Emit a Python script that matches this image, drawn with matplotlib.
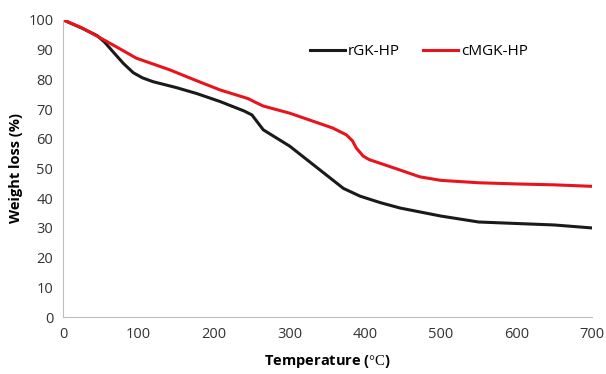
import matplotlib
matplotlib.use('Agg')
import matplotlib.pyplot as plt

# TGA curves, temperature in degC, weight in %
temp_rgk = [0, 25, 45, 55, 66, 80, 93, 105, 119, 150, 177, 208, 240, 250, 256, 265, 300, 340, 371, 393, 420, 446, 500, 550, 600, 650, 700]
wt_rgk = [100, 97.2, 94.7, 92.5, 89.3, 85.3, 82.2, 80.5, 79.2, 77.2, 75.2, 72.5, 69.3, 68, 66, 63, 57.5, 49.5, 43.3, 40.7, 38.5, 36.7, 34, 32, 31.5, 31, 30]

temp_cmgk = [0, 25, 46, 70, 97, 141, 175, 208, 245, 255, 265, 300, 357, 375, 383, 388, 397, 405, 419, 440, 472, 500, 550, 600, 650, 700]
wt_cmgk = [100, 97.3, 94.4, 91, 87.1, 83.2, 79.7, 76.4, 73.5, 72.2, 71, 68.6, 63.6, 61.3, 59.3, 56.9, 54.2, 53, 51.8, 50, 47.2, 46, 45.2, 44.8, 44.5, 44]

plt.rcParams['font.family'] = ['Open Sans', 'DejaVu Sans']
plt.rcParams['mathtext.fontset'] = 'custom'
plt.rcParams['mathtext.rm'] = 'Liberation Serif'

fig = plt.figure(figsize=(6.06, 3.74), dpi=100)
ax = fig.add_axes([0.104, 0.152, 0.873, 0.795])

ax.plot(temp_rgk, wt_rgk, color='#1a1a1a', lw=2.2, label='rGK-HP')
ax.plot(temp_cmgk, wt_cmgk, color='#e8141c', lw=2.2, label='cMGK-HP')

ax.set_xlim(0, 700)
ax.set_ylim(0, 100)
ax.set_xticks(range(0, 701, 100))
ax.set_yticks(range(0, 101, 10))
ax.tick_params(length=0, labelsize=10.5, colors='#333333', pad=7)
for s in ['top', 'right']:
    ax.spines[s].set_visible(False)
for s in ['left', 'bottom']:
    ax.spines[s].set_color('#bfbfbf')

ax.set_ylabel('Weight loss (%)', fontsize=10.5, fontweight='bold', labelpad=4)
ax.set_xlabel('Temperature (' + r'$\mathrm{°C}$' + ')', fontsize=10.5, fontweight='bold', labelpad=8)

ax.legend(loc='upper left', bbox_to_anchor=(0.44, 0.965), ncol=2, frameon=False,
          fontsize=11, handlelength=2.3, handletextpad=0.2, columnspacing=1.5)

fig.savefig('out.png', dpi=100)
